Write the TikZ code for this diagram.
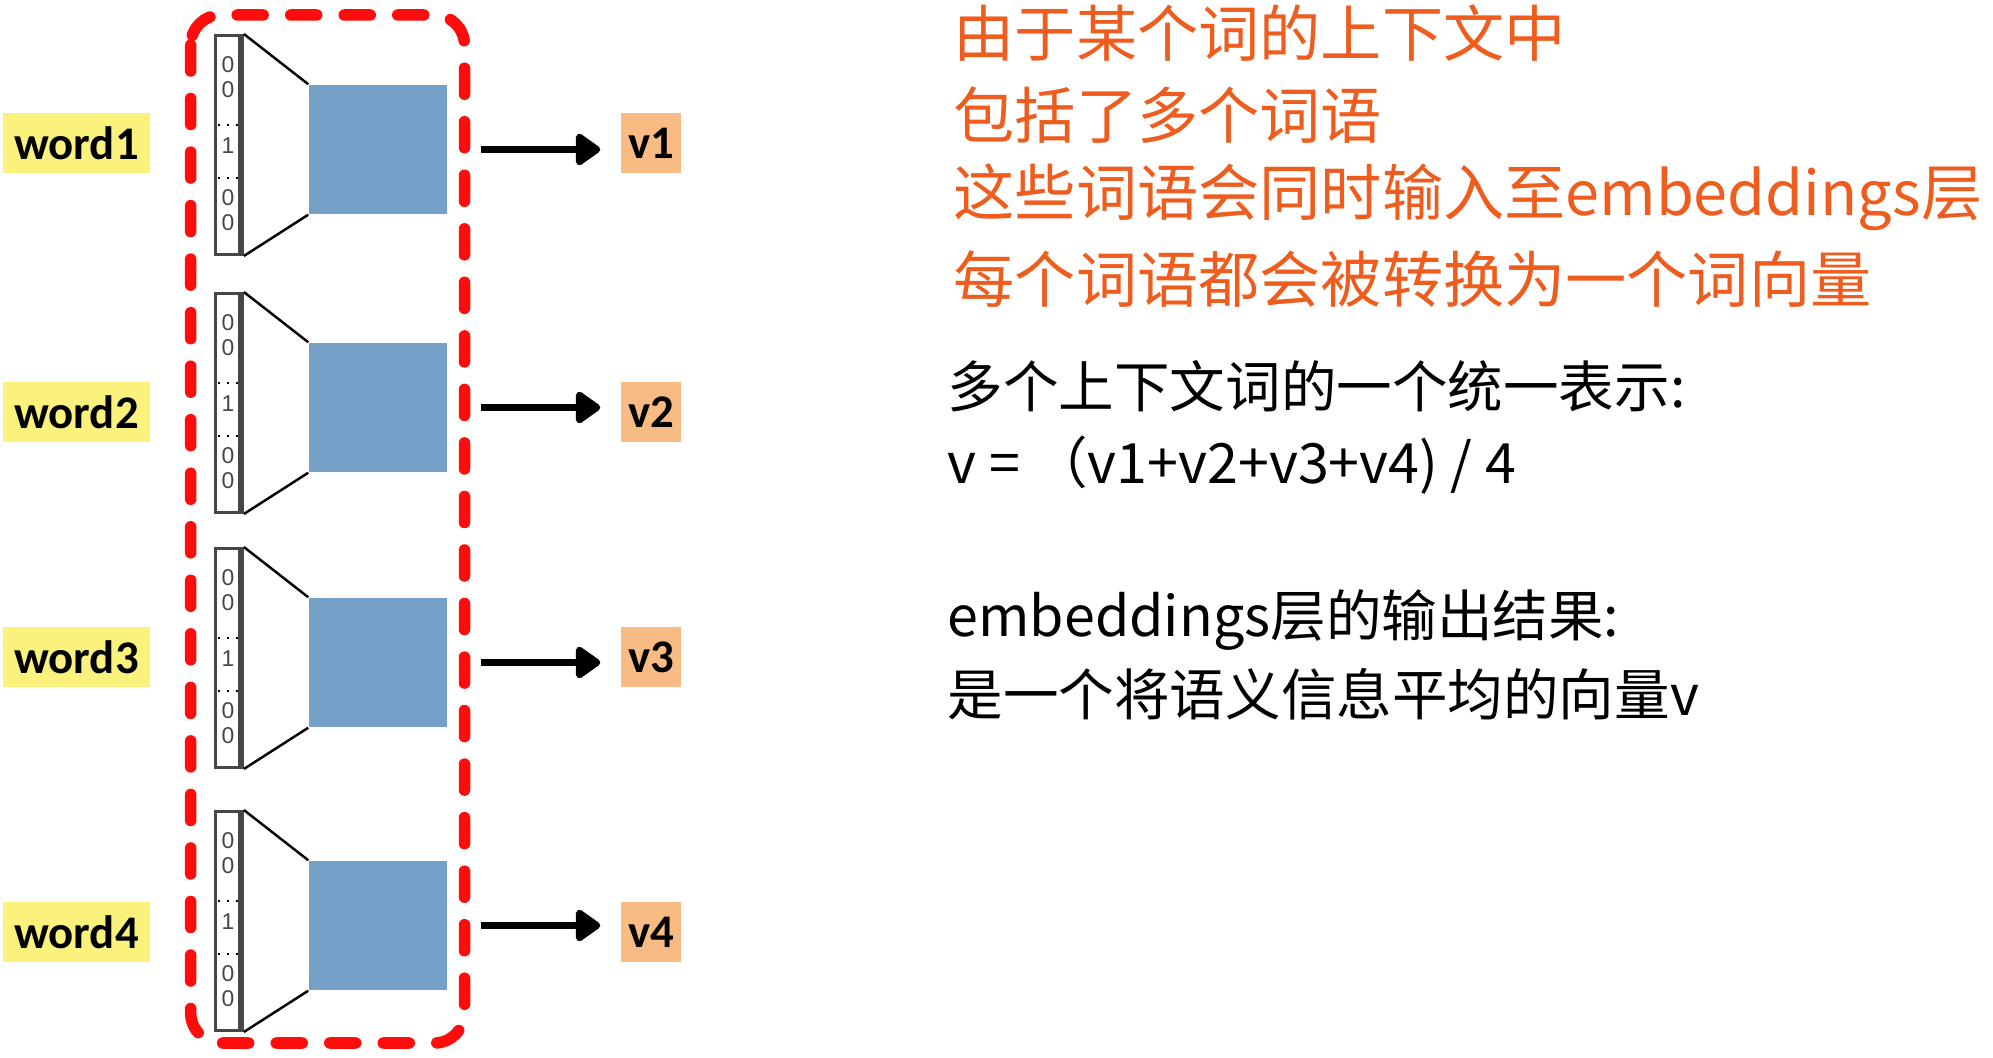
\documentclass[tikz,border=0pt]{standalone}
\usepackage{fontspec}
\setmainfont{Noto Sans CJK SC}
\newfontfamily\labelfont{Carlito}
\newfontfamily\digitfont{Liberation Sans}
\usetikzlibrary{arrows.meta, positioning}
\definecolor{framered}{RGB}{255,12,12}
\definecolor{embblue}{RGB}{117,160,199}
\definecolor{wordyellow}{RGB}{250,242,125}
\definecolor{vecorange}{RGB}{248,187,132}
\definecolor{noteorange}{RGB}{238,92,30}
\definecolor{onehotgray}{RGB}{70,70,70}

\tikzset{
  wordbox/.style={fill=wordyellow, minimum width=1.47cm, minimum height=0.6cm, inner sep=0pt,
                  font=\labelfont\bfseries\fontsize{13.3}{13.3}\selectfont},
  vecbox/.style={fill=vecorange, minimum width=0.6cm, minimum height=0.6cm, inner sep=0pt,
                 font=\labelfont\bfseries\fontsize{13.3}{13.3}\selectfont},
  onehot/.style={draw=onehotgray, line width=0.8pt, fill=white, minimum width=0.27cm,
                 minimum height=2.19cm, inner sep=0pt},
  embbox/.style={fill=embblue, minimum width=1.38cm, minimum height=1.29cm, inner sep=0pt},
  digit/.style={font=\digitfont\fontsize{6.5}{6.5}\selectfont, inner sep=0pt, text=onehotgray},
  outarrow/.style={line width=0.075cm, -{Triangle[length=0.27cm, width=0.36cm, round]},
                   shorten <=0.33cm, shorten >=0.2cm},
  note/.style={anchor=west, inner sep=0pt, text=noteorange, font=\fontsize{17.4}{17.4}\selectfont},
  sumnote/.style={anchor=west, inner sep=0pt, font=\fontsize{15.8}{15.8}\selectfont},
}

\begin{document}
\begin{tikzpicture}[x=0.01cm, y=-0.01cm]
  \useasboundingbox (0,0) rectangle (1993,1058);

  %% Context words, one-hot inputs and embeddings
  \foreach \i/\yc/\yl in {1/145/143, 2/403/412, 3/658/657, 4/921/932}{
    \node[wordbox] (word\i) at (76.5,\yl) {word\i};
    \node[onehot] (onehot\i) at (229,\yc) {};
    \node[embbox] (emb\i) at (378,\yc+4.5) {};
    \node[vecbox] (vec\i) at (651,\yl) {v\i};
    \draw[onehotgray, line width=1.2pt] ([xshift=-0.035cm]onehot\i.north east) -- ([xshift=-0.035cm]onehot\i.south east);
    \foreach \dy/\d in {-80/0, -55/0, 1/1, 53/0, 78/0}
      \node[digit] at (228,\yc+\dy) {\d};
    \draw[dotted, line width=0.6pt] (218,\yc-20) -- (238,\yc-20);
    \draw[dotted, line width=0.6pt] (218,\yc+33) -- (238,\yc+33);
    \draw[line width=0.7pt] (onehot\i.north east) -- (emb\i.north west);
    \draw[line width=0.7pt] (onehot\i.south east) -- (emb\i.south west);
    \draw[outarrow] (emb\i) -- (emb\i -| vec\i.west);
  }

  %% Context window
  \draw[framered, line width=0.115cm, dash pattern=on 0.26cm off 0.275cm, line cap=round,
        rounded corners=0.3cm] (190.7,15) rectangle (464.5,1043);

  %% Notes
  \node[note] (ctx1) at (953,33) {由于某个词的上下文中};
  \node[note] (ctx2) at (953,115) {包括了多个词语};
  \node[note] (ctx3) at (953,197) {这些词语会同时输入至embeddings层};
  \node[note] (ctx4) at (953,279) {每个词语都会被转换为一个词向量};
  \node[sumnote] (sum1) at (947,386) {多个上下文词的一个统一表示:};
  \node[sumnote] (sum2) at (947,465) {v = （v1+v2+v3+v4) / 4};
  \node[sumnote] (out1) at (947,620) {embeddings层的输出结果:};
  \node[sumnote] (out2) at (947,694) {是一个将语义信息平均的向量v};
\end{tikzpicture}
\end{document}
